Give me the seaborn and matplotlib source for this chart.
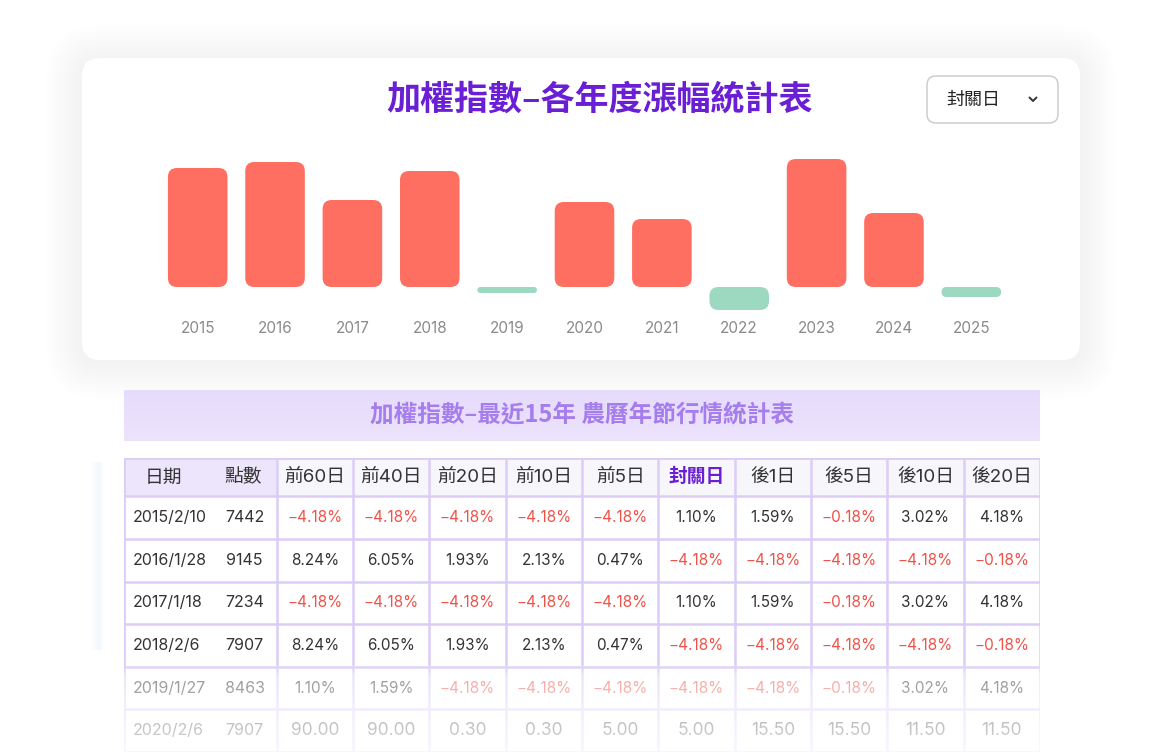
import numpy as np
import pandas as pd
import seaborn as sns
import matplotlib.pyplot as plt
from matplotlib.patches import FancyBboxPatch, Rectangle

# 年度漲幅 (柱狀圖)
years = ['2015', '2016', '2017', '2018', '2019', '2020', '2021', '2022', '2023', '2024', '2025']
annual_change = [23.8, 25.0, 17.4, 23.2, -1.2, 17.0, 13.6, -4.6, 25.6, 14.8, -2.0]

# 農曆年節行情統計表
table_columns = ['前60日', '前40日', '前20日', '前10日', '前5日', '封關日', '後1日', '後5日', '後10日', '後20日']
dates = ['2015/2/10', '2016/1/28', '2017/1/18', '2018/2/6', '2019/1/27', '2020/2/6']
points = [7442, 9145, 7234, 7907, 8463, 7907]
row_2015 = [-4.18, -4.18, -4.18, -4.18, -4.18, 1.10, 1.59, -0.18, 3.02, 4.18]
row_2016 = [8.24, 6.05, 1.93, 2.13, 0.47, -4.18, -4.18, -4.18, -4.18, -0.18]
row_2017 = [-4.18, -4.18, -4.18, -4.18, -4.18, 1.10, 1.59, -0.18, 3.02, 4.18]
row_2018 = [8.24, 6.05, 1.93, 2.13, 0.47, -4.18, -4.18, -4.18, -4.18, -0.18]
row_2019 = [1.10, 1.59, -4.18, -4.18, -4.18, -4.18, -4.18, -0.18, 3.02, 4.18]
row_2020 = [90.00, 90.00, 0.30, 0.30, 5.00, 5.00, 15.50, 15.50, 11.50, 11.50]

W, H = 1160, 752
CJK = ['Noto Sans CJK TC', 'DejaVu Sans']
NUM = ['Inter', 'Noto Sans CJK TC', 'DejaVu Sans']
PURPLE = '#6a1fd4'
RED_TXT = '#ef5249'
DARK = '#333333'
GRID = '#dccdf6'

sns.set_theme(style='white')
plt.rcParams['font.family'] = CJK
plt.rcParams['axes.unicode_minus'] = True

fig = plt.figure(figsize=(W / 100, H / 100), dpi=100, facecolor='white')

# 背景層 (像素座標)
bg = fig.add_axes([0, 0, 1, 1], zorder=0)
bg.set_xlim(0, W)
bg.set_ylim(H, 0)
bg.axis('off')


def card(ax, x0, y0, x1, y1, r, alpha=0.003):
    for i in range(12, 0, -1):
        s = i * 3
        ax.add_patch(FancyBboxPatch((x0 - s, y0 - s + 3), x1 - x0 + 2 * s, y1 - y0 + 2 * s,
                                    boxstyle=f'round,pad=0,rounding_size={r + s}',
                                    fc='#8c8c8c', ec='none', alpha=alpha))
    ax.add_patch(FancyBboxPatch((x0, y0), x1 - x0, y1 - y0,
                                boxstyle=f'round,pad=0,rounding_size={r}',
                                fc='white', ec='none'))


# 下方表格卡片 & 上方圖表卡片
card(bg, 100, 366, 1066, 800, 14, alpha=0.0018)
card(bg, 82, 58, 1080, 360, 18, alpha=0.0028)

# 左側淡藍光暈
glow = np.zeros((1, 60, 4))
glow[..., :3] = np.array([0.82, 0.90, 0.99])
glow[..., 3] = np.interp(np.arange(60), [0, 40, 59], [0, 0.25, 0])
bg.imshow(glow, extent=(90, 104, 650, 462), aspect='auto', zorder=1)

# 標題
bg.text(600, 99, '加權指數–各年度漲幅統計表', ha='center', va='center',
        fontsize=24.5, fontweight='bold', color=PURPLE, family=CJK)

# 下拉選單
bg.add_patch(FancyBboxPatch((927, 76), 131, 47, boxstyle='round,pad=0,rounding_size=9',
                            fc='white', ec='#c9c9cc', lw=1))
bg.text(946, 99.5, '封關日', ha='left', va='center', fontsize=13, color='#222222', family=CJK)
bg.plot([1029.5, 1033, 1036.5], [97.5, 101, 97.5], color='#333333', lw=1.4,
        solid_capstyle='round', solid_joinstyle='round')

# 柱狀圖
px_per_unit = 5.0
base_px = 287
top_px, bottom_px = 150, 315
ax = fig.add_axes([159 / W, 1 - bottom_px / H, 851 / W, (bottom_px - top_px) / H], zorder=2)
ax.patch.set_alpha(0)
bars = pd.DataFrame({'year': years, 'change': annual_change})
bars['dir'] = np.where(bars['change'] >= 0, 'up', 'down')
sns.barplot(data=bars, x='year', y='change', hue='dir', dodge=False, legend=False,
            palette={'up': '#ff6f61', 'down': '#9dd8c0'}, saturation=1, width=0.77, ax=ax)
ax.set_xlim(-0.5, len(years) - 0.5)
ax.set_ylim(-(bottom_px - base_px) / px_per_unit, (base_px - top_px) / px_per_unit)

# 圓角柱子
x_unit_px = 851 / len(years)
aspect = x_unit_px / px_per_unit
for p in list(ax.patches):
    x, y, w, h = p.get_x(), p.get_y(), p.get_width(), p.get_height()
    if h == 0 or np.isnan(h):
        p.remove()
        continue
    y0 = min(y, y + h)
    hh = abs(h)
    r = min(9 / x_unit_px, w / 2, hh / aspect / 2)
    fb = FancyBboxPatch((x, y0), w, hh, boxstyle=f'round,pad=0,rounding_size={r}',
                        mutation_aspect=aspect, fc=p.get_facecolor(), ec='none')
    p.remove()
    ax.add_patch(fb)

sns.despine(ax=ax, left=True, bottom=True)
ax.set_yticks([])
ax.set_xlabel('')
ax.set_ylabel('')
ax.tick_params(axis='x', length=0, pad=4, labelsize=11, labelcolor='#8a8a8a')
for lab in ax.get_xticklabels():
    lab.set_family(NUM)

# 表格標題列
banner = np.zeros((40, 200, 4))
banner[..., 0] = np.linspace(0.90, 0.93, 40)[:, None]
banner[..., 1] = np.linspace(0.86, 0.89, 40)[:, None]
banner[..., 2] = 0.99
banner[..., 3] = 1
bg.imshow(banner, extent=(124, 1040, 441, 390), aspect='auto', zorder=1)
bg.text(582, 415, '加權指數–最近15年 農曆年節行情統計表', ha='center', va='center',
        fontsize=17, fontweight='bold', color='#a57ded', family=CJK, zorder=2)

# 表格 (欄: 0-1 日期/點數, 2-11 各期間)
tx0, tx1, ty0, ty1 = 124, 1040, 458, 752
tab = fig.add_axes([tx0 / W, 1 - ty1 / H, (tx1 - tx0) / W, (ty1 - ty0) / H], zorder=3)
tab.patch.set_alpha(0)
tab.axis('off')
head_h = 0.9
n_rows = len(dates)
tab.set_xlim(0, 12)
tab.set_ylim(head_h + n_rows, 0)

tab.add_patch(Rectangle((0, 0), 12, head_h, fc='#f7f6fb', ec='none'))
tab.add_patch(Rectangle((0, 0), 2, head_h, fc='#ece5fb', ec='none'))

# 格線
for k in range(n_rows + 1):
    tab.axhline(head_h + k, color=GRID, lw=1.8)
tab.axhline(0, color=GRID, lw=2)
tab.axvline(0, color=GRID, lw=2)
for c in range(2, 13):
    tab.axvline(c, color=GRID, lw=1.8)

hy = head_h / 2
tab.text(0.52, hy, '日期', ha='center', va='center', fontsize=13.5, color=DARK, family=CJK)
tab.text(1.56, hy, '點數', ha='center', va='center', fontsize=13.5, color=DARK, family=CJK)
for j, col in enumerate(table_columns):
    closing = col == '封關日'
    tab.text(2.5 + j, hy, col, ha='center', va='center', fontsize=13.5,
             color=PURPLE if closing else DARK, fontweight='bold' if closing else 'normal',
             family=NUM)

rows = pd.DataFrame([row_2015, row_2016, row_2017, row_2018, row_2019, row_2020],
                    columns=table_columns)
rows.insert(0, '點數', points)
rows.insert(0, '日期', dates)

for i, rec in rows.iterrows():
    yc = head_h + i + 0.5
    last = i == n_rows - 1
    tab.text(0.12, yc, rec['日期'], ha='left', va='center', fontsize=11.5, color=DARK, family=NUM)
    tab.text(1.58, yc, str(rec['點數']), ha='center', va='center', fontsize=11.5, color=DARK,
             family=NUM)
    for j, col in enumerate(table_columns):
        v = rec[col]
        if last:
            s, c, fs = f'{v:.2f}', DARK, 12.5
        else:
            s = f'{v:.2f}%'.replace('-', '−')
            c, fs = (RED_TXT if v < 0 else DARK), 11
        tab.text(2.5 + j, yc, s, ha='center', va='center', fontsize=fs, color=c, family=NUM)

# 底部淡出
fade = np.ones((200, 1, 4))
yy = np.linspace(640, 752, 200)
fade[:, 0, 3] = np.interp(yy, [664, 676, 752], [0, 0.5, 0.82])
ov = fig.add_axes([0, 0, 1, 1], zorder=4)
ov.set_xlim(0, W)
ov.set_ylim(H, 0)
ov.axis('off')
ov.patch.set_alpha(0)
ov.imshow(fade, extent=(90, 1070, 752, 640), aspect='auto')

fig.savefig('out.png', dpi=100, facecolor='white')
